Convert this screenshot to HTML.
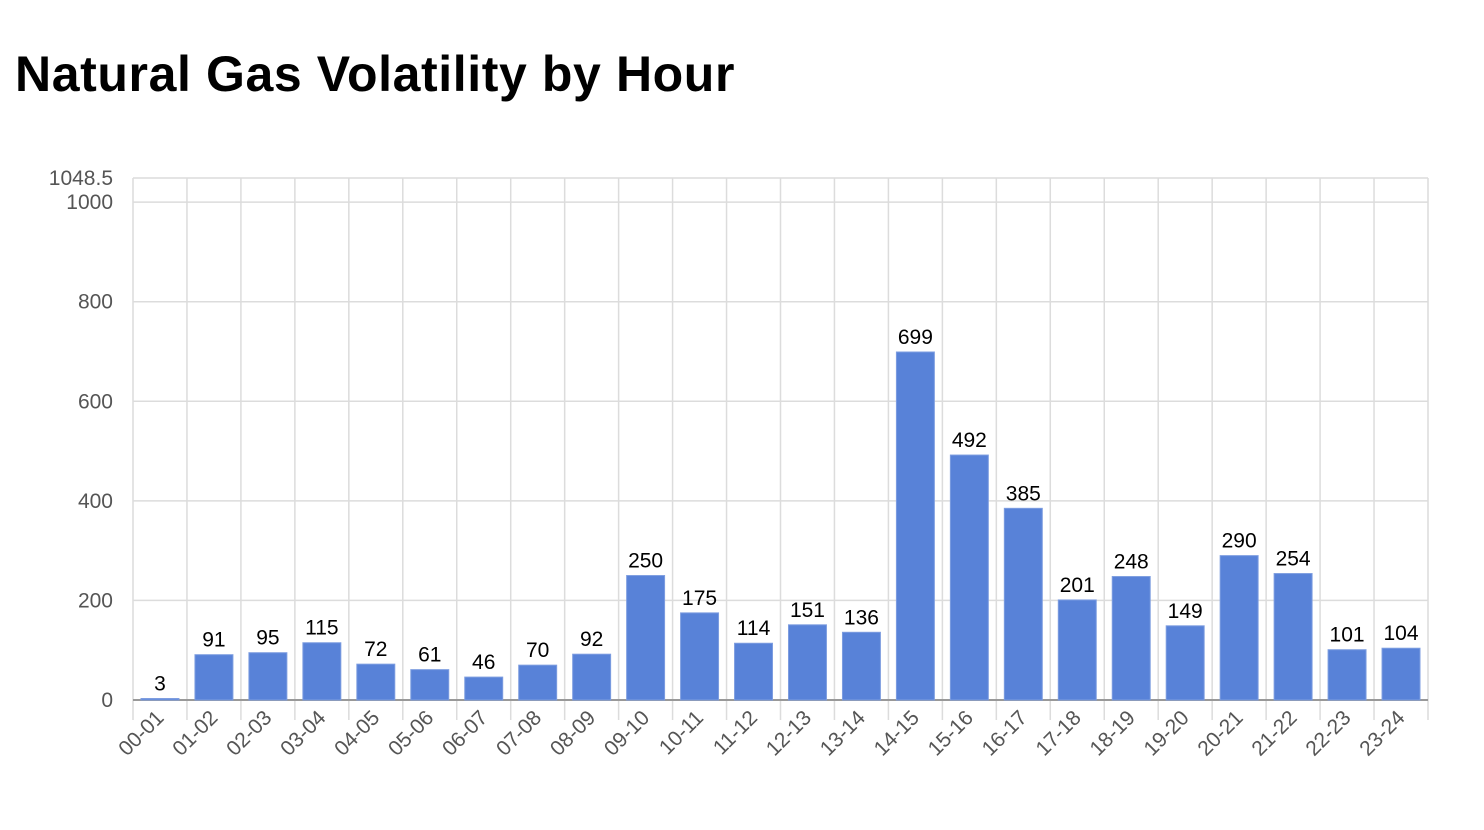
<!DOCTYPE html>
<html><head><meta charset="utf-8"><style>
body{margin:0;background:#fff;width:1484px;height:830px;overflow:hidden;font-family:"Liberation Sans",sans-serif}
h1{position:absolute;left:15px;top:45px;margin:0;font-size:50px;font-weight:bold;letter-spacing:0.6px;color:#000}
</style></head><body>
<h1>Natural Gas Volatility by Hour</h1>
<svg id="c" width="1484" height="830" style="position:absolute;left:0;top:0"></svg>
<script>
const categories=["00-01","01-02","02-03","03-04","04-05","05-06","06-07","07-08","08-09","09-10","10-11","11-12","12-13","13-14","14-15","15-16","16-17","17-18","18-19","19-20","20-21","21-22","22-23","23-24"];
const values=[3,91,95,115,72,61,46,70,92,250,175,114,151,136,699,492,385,201,248,149,290,254,101,104];
const yTicks=[0,200,400,600,800,1000,1048.5];
const yMax=1048.5;
const svg=document.getElementById('c');
const NS='http://www.w3.org/2000/svg';
const L=133,R=1428,T=178,B=700;
const band=(R-L)/categories.length;
const x=i=>L+i*band;
const y=v=>B-(v/yMax)*(B-T);
function mk(t,a){const e=document.createElementNS(NS,t);for(const k in a)e.setAttribute(k,a[k]);svg.appendChild(e);return e;}
yTicks.forEach(v=>{
 const g=mk('line',{x1:L,x2:R,y1:y(v),y2:y(v),stroke:'#dcdcdc','stroke-width':1.5});
 
 
 const t=mk('text',{x:113,y:y(v)+7,'text-anchor':'end','font-size':21,fill:'#555'});
 t.textContent=v;
 
 
});
for(let i=0;i<=categories.length;i++){
 const g=mk('line',{x1:x(i),x2:x(i),y1:T,y2:B+20,stroke:'#dcdcdc','stroke-width':1.5});
 
 
}
const ax=mk('line',{x1:L,x2:R,y1:B,y2:B,stroke:'#999','stroke-width':2});


categories.forEach((c,i)=>{
 const bx=x(i)+8,bw=band-16;
 const r=mk('rect',{x:bx,y:y(values[i]),width:bw,height:B-y(values[i]),fill:'#5882d8',stroke:'#7d9de0','stroke-width':1});
 
 
 const vl=mk('text',{x:x(i)+band/2,y:y(values[i])-8,'text-anchor':'middle','font-size':21,fill:'#000'});
 vl.textContent=values[i];
 
 
 const cx=x(i)+band/2+5,cy=719;
 const tl=mk('text',{x:cx,y:cy,'text-anchor':'end','font-size':21,fill:'#555',transform:`rotate(-45 ${cx} ${cy})`});
 tl.textContent=c;
 
 
});
</script>
</body></html>
